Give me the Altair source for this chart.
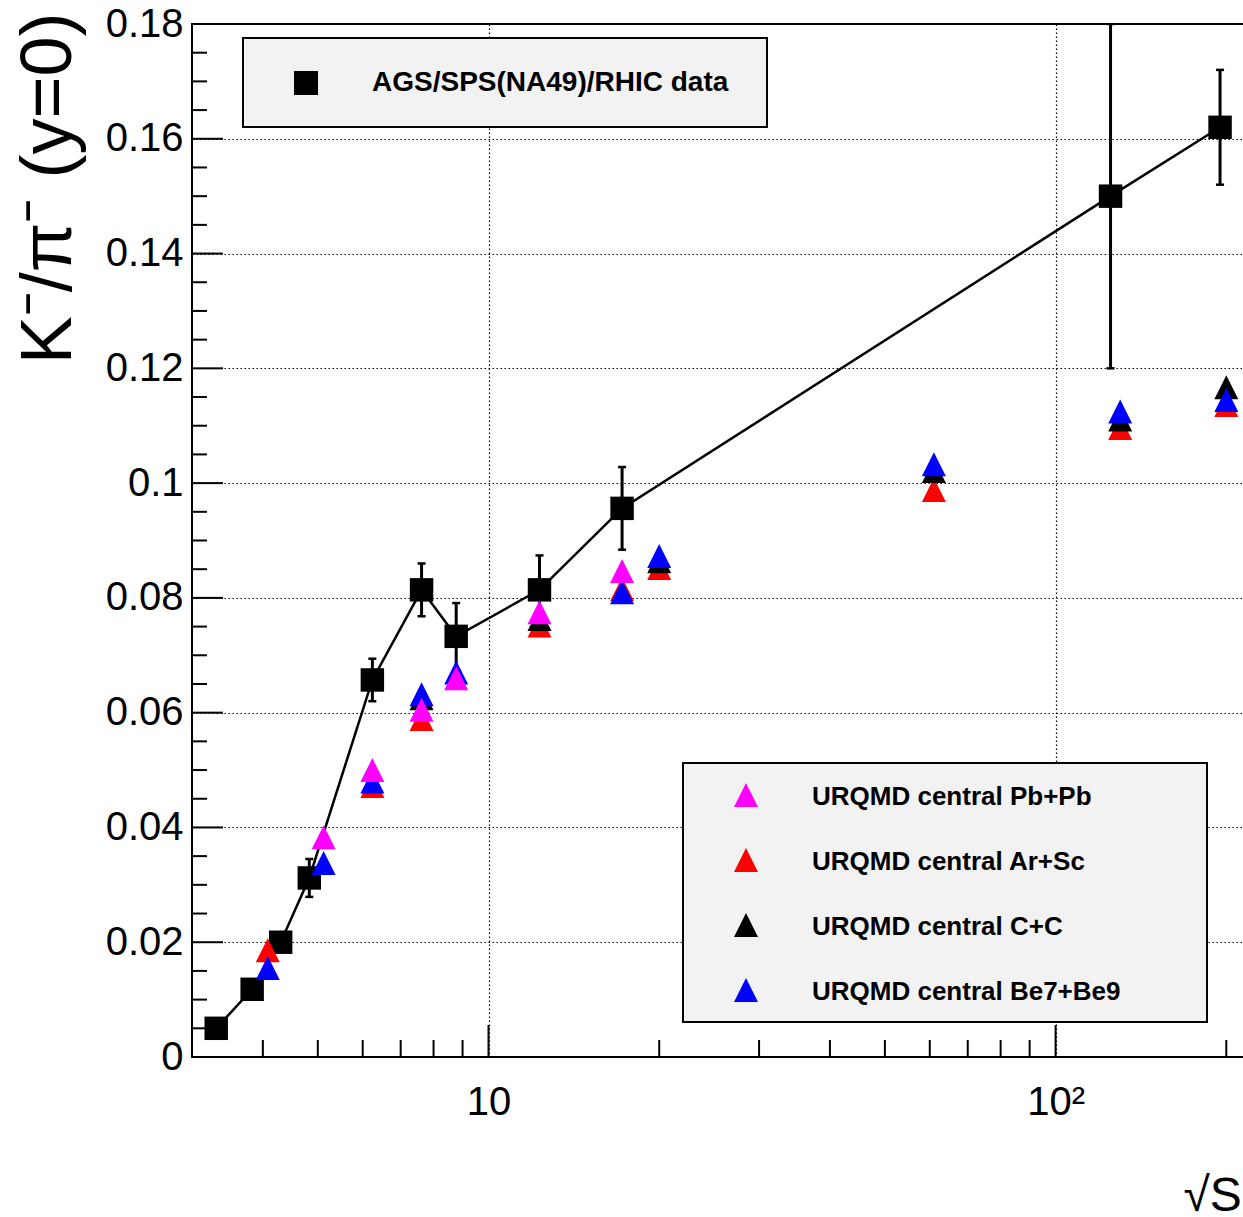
import altair as alt
import pandas as pd

FONT = "Liberation Sans"

# ---------------- data ----------------
data_label = "AGS/SPS(NA49)/RHIC data"
data_sqrts = [3.31, 3.83, 4.30, 4.83, 6.24, 7.62, 8.77, 12.3, 17.2, 125.0, 195.0]
data_ratio = [0.0050, 0.0118, 0.0200, 0.0312, 0.0657, 0.0814, 0.0733, 0.0814, 0.0956, 0.150, 0.162]
data_err = [0.0005, 0.0006, 0.0008, 0.0033, 0.0037, 0.0046, 0.0058, 0.0060, 0.0072, 0.030, 0.010]

series_names = ["URQMD central Pb+Pb", "URQMD central Ar+Sc",
                "URQMD central C+C", "URQMD central Be7+Be9"]
series_colors = ["#ff00ff", "#ff0000", "#000000", "#0000ff"]

pbpb_sqrts = [5.12, 6.24, 7.62, 8.77, 12.3, 17.2]
pbpb_ratio = [0.0383, 0.0500, 0.0605, 0.0660, 0.0775, 0.0847]
arsc_sqrts = [4.08, 6.24, 7.62, 12.3, 17.2, 20.0, 61.0, 130.0, 200.0]
arsc_ratio = [0.0186, 0.0472, 0.0589, 0.0752, 0.0815, 0.0852, 0.0988, 0.1096, 0.1136]
cc_sqrts = [7.62, 12.3, 20.0, 61.0, 130.0, 200.0]
cc_ratio = [0.0625, 0.0763, 0.0864, 0.1021, 0.1111, 0.1167]
be_sqrts = [4.08, 5.12, 6.24, 7.62, 8.77, 17.2, 20.0, 61.0, 130.0, 200.0]
be_ratio = [0.0155, 0.0338, 0.0480, 0.0632, 0.0670, 0.0810, 0.0873, 0.1033, 0.1125, 0.1145]

x_major = [10, 100]
x_minor = [4, 5, 6, 7, 8, 9, 20, 30, 40, 50, 60, 70, 80, 90, 200, 300]
y_major = [0, 0.02, 0.04, 0.06, 0.08, 0.10, 0.12, 0.14, 0.16, 0.18]
y_minor = [0.005, 0.01, 0.015, 0.025, 0.03, 0.035, 0.045, 0.05, 0.055,
           0.065, 0.07, 0.075, 0.085, 0.09, 0.095, 0.105, 0.11, 0.115,
           0.125, 0.13, 0.135, 0.145, 0.15, 0.155, 0.165, 0.17, 0.175]

# ---------------- layout ----------------
W, H = 1205, 1033
TRI = "M0,-1L1,1L-1,1Z"

xs = alt.Scale(type="log", domain=[3, 400])
ys = alt.Scale(domain=[0, 0.18])

xaxis = alt.Axis(values=x_major, labelExpr="datum.value == 100 ? '10²' : '10'",
                 grid=True, gridDash=[1.5, 2.5], gridColor="black", gridWidth=1.2, gridOpacity=1,
                 ticks=False, tickSize=0, domain=False, labelFlush=False, labelOverlap=False,
                 labelFontSize=40, labelFont=FONT, labelColor="black", labelPadding=25,
                 title="√S_NN (GeV)", titleX=991, titleY=153, titleAlign="left",
                 titleBaseline="alphabetic", titleFontSize=48, titleFont=FONT,
                 titleFontWeight="normal", titleColor="black")
yaxis = alt.Axis(values=y_major, format="~g",
                 grid=True, gridDash=[1.5, 2.5], gridColor="black", gridWidth=1.2, gridOpacity=1,
                 ticks=False, tickSize=0, domain=False, labelFlush=False, labelOverlap=False,
                 labelFontSize=40, labelFont=FONT, labelColor="black", labelPadding=9,
                 title="K⁻/π⁻ (y=0)", titleX=-122, titleY=-12, titleAngle=270,
                 titleAlign="right", titleBaseline="alphabetic", titleFontSize=72,
                 titleFont=FONT, titleFontWeight="normal", titleColor="black")


def X(f):
    return alt.X(f, type="quantitative", scale=xs, axis=xaxis)


def Y(f):
    return alt.Y(f, type="quantitative", scale=ys, axis=yaxis)


one = pd.DataFrame({"k": [0]})

# axis frame ticks (inward, ROOT style)
ymaj = alt.Chart(pd.DataFrame({"v": y_major})).mark_rule(color="black", strokeWidth=2).encode(
    y=Y("v"), x=alt.value(0), x2=alt.value(31))
ymin = alt.Chart(pd.DataFrame({"v": y_minor})).mark_rule(color="black", strokeWidth=2).encode(
    y=Y("v"), x=alt.value(0), x2=alt.value(15))
xmaj = alt.Chart(pd.DataFrame({"v": x_major})).mark_rule(color="black", strokeWidth=2).encode(
    x=X("v"), y=alt.value(H), y2=alt.value(H - 32))
xmin = alt.Chart(pd.DataFrame({"v": x_minor})).mark_rule(color="black", strokeWidth=2).encode(
    x=X("v"), y=alt.value(H), y2=alt.value(H - 17))

# legend boxes
box1 = alt.Chart(one).mark_rect(fill="#f2f2f2", stroke="black", strokeWidth=2).encode(
    x=alt.value(51), x2=alt.value(575), y=alt.value(14), y2=alt.value(103))
box2 = alt.Chart(one).mark_rect(fill="#f2f2f2", stroke="black", strokeWidth=2).encode(
    x=alt.value(491), x2=alt.value(1015), y=alt.value(739), y2=alt.value(998))

# data
df = pd.DataFrame({"s": data_sqrts, "r": data_ratio, "e": data_err})
df["lo"] = df["r"] - df["e"]
df["hi"] = df["r"] + df["e"]

line = alt.Chart(df).mark_line(color="black", strokeWidth=2.5, clip=True).encode(
    x=X("s"), y=Y("r"), order="s:Q")
ebar = alt.Chart(df).mark_rule(color="black", strokeWidth=3, clip=True).encode(
    x=X("s"), y=Y("lo"), y2=alt.Y2("hi"))
cap_lo = alt.Chart(df).mark_tick(color="black", orient="horizontal", size=8, thickness=2.5,
                                 opacity=1, clip=True).encode(x=X("s"), y=Y("lo"))
cap_hi = alt.Chart(df).mark_tick(color="black", orient="horizontal", size=8, thickness=2.5,
                                 opacity=1, clip=True).encode(x=X("s"), y=Y("hi"))
squares = alt.Chart(df).mark_point(shape="square", filled=True, size=550, color="black",
                                   opacity=1, clip=True).encode(x=X("s"), y=Y("r"))


def tri_layer(sv, rv, color):
    d = pd.DataFrame({"s": sv, "r": rv})
    return alt.Chart(d).mark_point(shape=TRI, filled=True, size=576, color=color,
                                   opacity=1, strokeWidth=0, clip=True).encode(
        x=X("s"), y=Y("r"))


tri_arsc = tri_layer(arsc_sqrts, arsc_ratio, series_colors[1])
tri_cc = tri_layer(cc_sqrts, cc_ratio, series_colors[2])
tri_be = tri_layer(be_sqrts, be_ratio, series_colors[3])
tri_pb = tri_layer(pbpb_sqrts, pbpb_ratio, series_colors[0])

# legend entries
leg = []
leg.append(alt.Chart(one).mark_point(shape="square", filled=True, size=576, color="black",
                                     opacity=1).encode(x=alt.value(114), y=alt.value(59)))
leg.append(alt.Chart(pd.DataFrame({"t": [data_label]})).mark_text(
    align="left", baseline="alphabetic", font=FONT, fontSize=28, fontWeight="bold",
    color="black").encode(text="t:N", x=alt.value(180), y=alt.value(67)))
for i, (name, col) in enumerate(zip(series_names, series_colors)):
    leg.append(alt.Chart(one).mark_point(shape=TRI, filled=True, size=576, color=col,
                                         opacity=1, strokeWidth=0).encode(
        x=alt.value(554), y=alt.value(771 + 65 * i)))
    leg.append(alt.Chart(pd.DataFrame({"t": [name]})).mark_text(
        align="left", baseline="alphabetic", font=FONT, fontSize=26, fontWeight="bold",
        color="black").encode(text="t:N", x=alt.value(620), y=alt.value(781 + 65 * i)))

chart = alt.layer(
    box1, box2, ymaj, ymin, xmaj, xmin,
    line, ebar, cap_lo, cap_hi, squares,
    tri_arsc, tri_cc, tri_be, tri_pb,
    *leg
).properties(
    width=W, height=H,
    autosize="none",
    padding={"left": 192, "top": 24, "right": 1243 - 192 - W, "bottom": 160},
    background="white",
).configure(font=FONT).configure_view(stroke="black", strokeWidth=2)

chart.save("out.html", embed_options={"renderer": "svg", "actions": False})
